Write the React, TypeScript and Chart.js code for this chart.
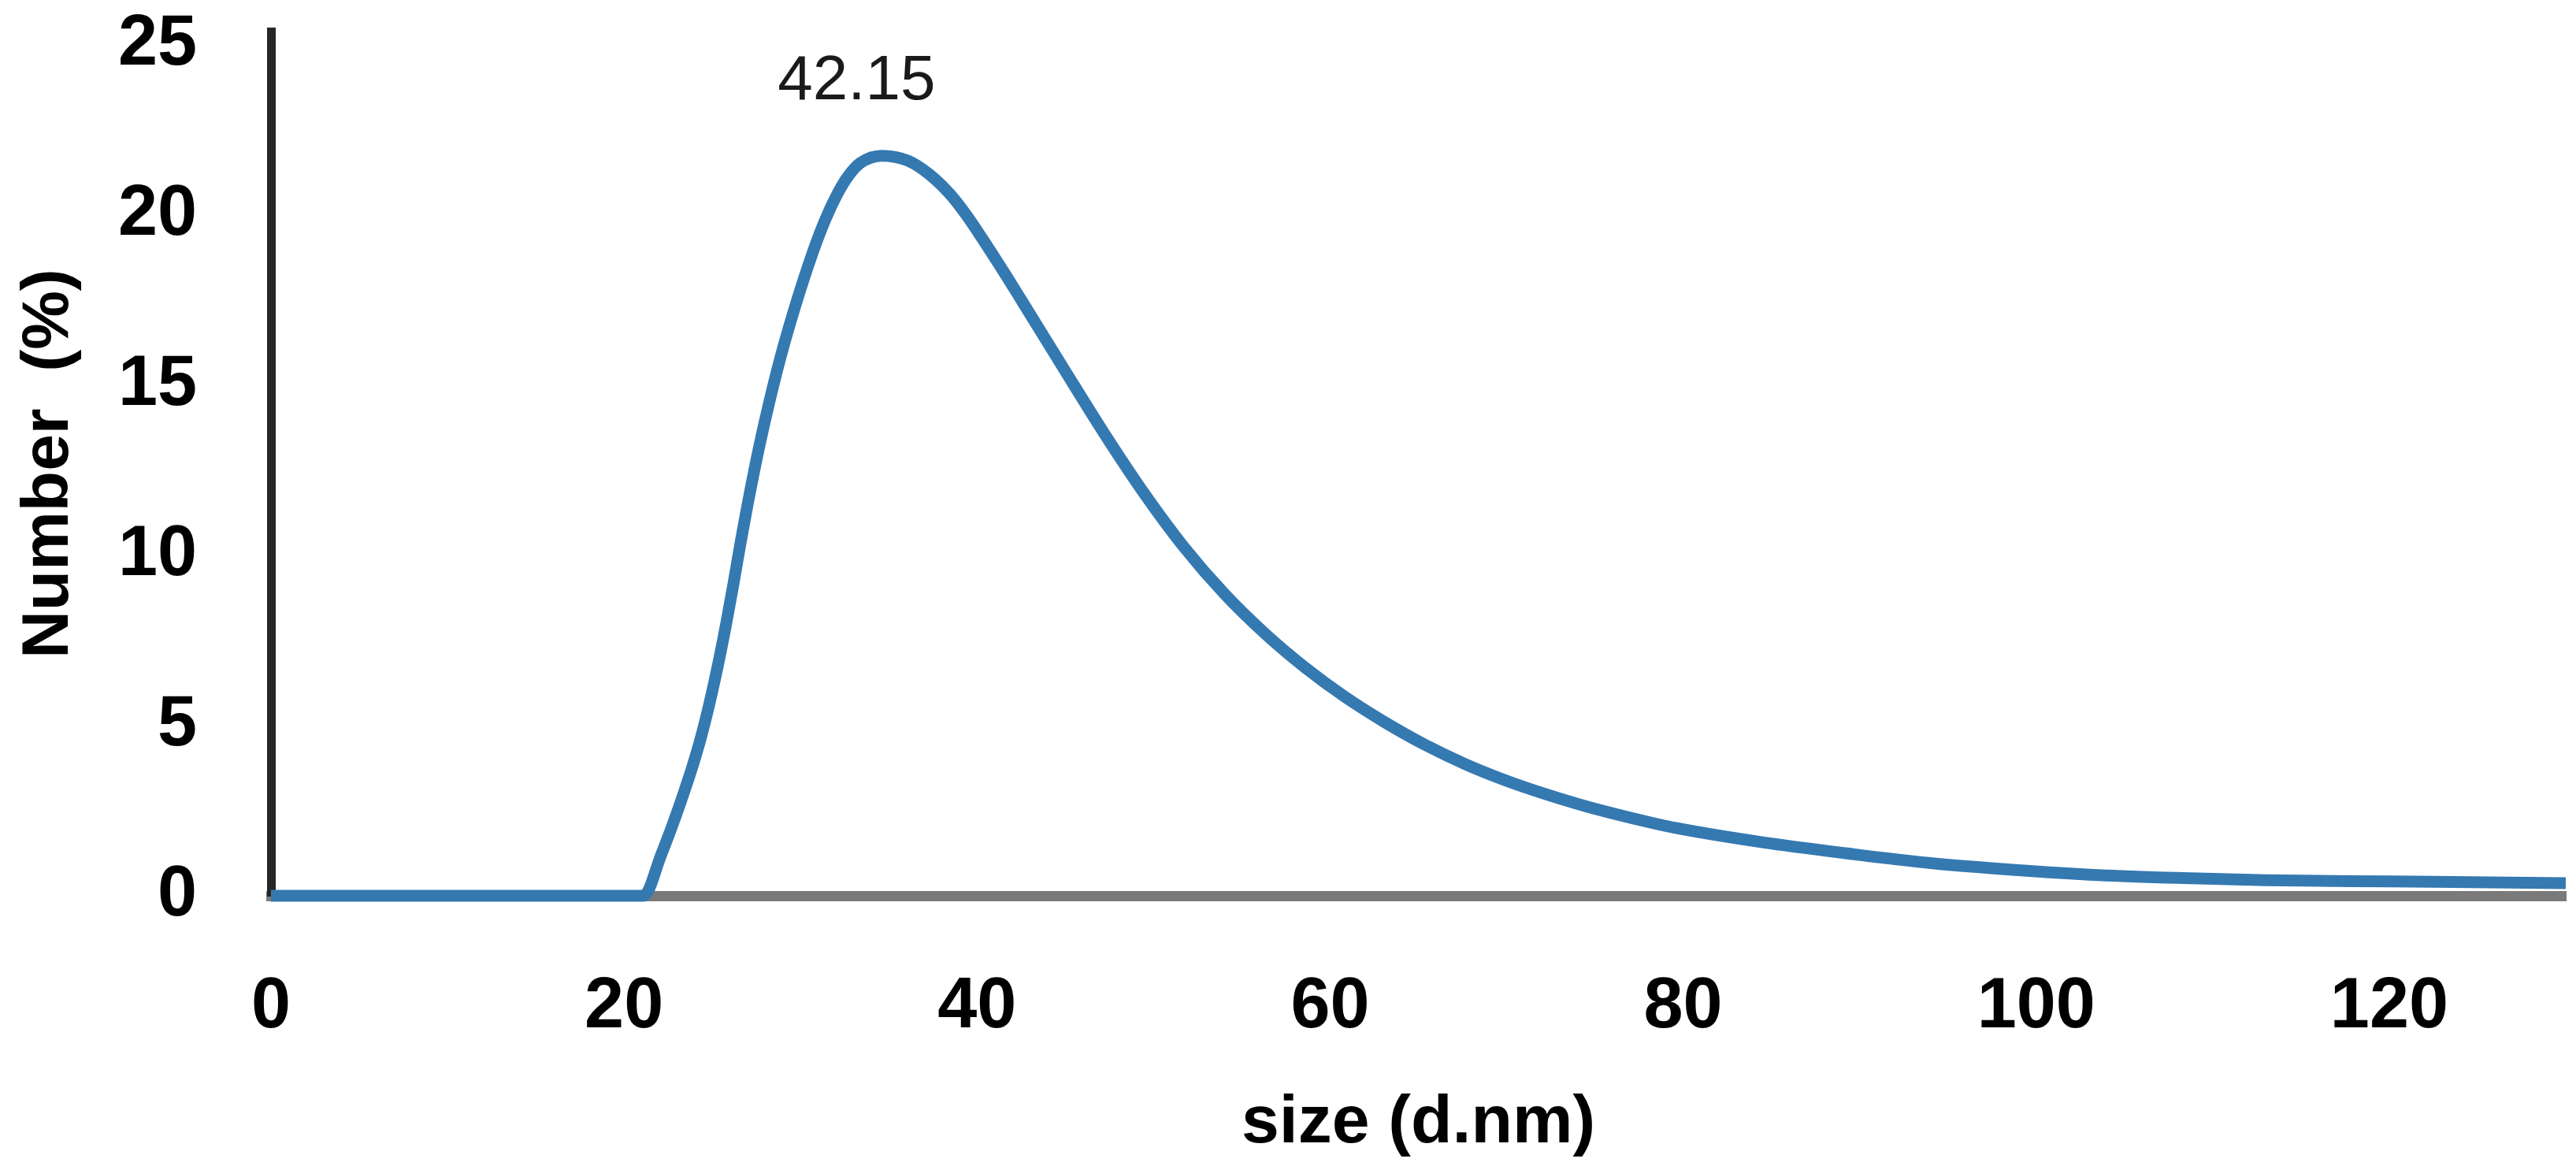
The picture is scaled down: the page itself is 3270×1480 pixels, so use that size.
import * as React from "react"
import { Chart, registerables } from "chart.js"

Chart.register(...registerables)

// size distribution by number (DLS)
const sizes = [
  0, 10, 20, 21.1, 22.1, 23.2, 24.1, 24.7, 25.3, 25.8, 26.2, 26.6, 27.0, 27.7,
  28.7, 29.6, 30.7, 31.4, 32.1, 32.7, 33.4, 34.6, 36.1, 37.3, 38.5, 39.4, 40.5,
  41.7, 42.6, 44.9, 47.2, 49.5, 51.7, 54.0, 56.3, 58.6, 60.8, 63.1, 65.4, 67.7,
  69.9, 72.2, 74.5, 78.1, 79.7, 84.5, 89.2, 94.0, 98.8, 103.5, 108.3, 113.0,
  117.8, 122.5, 130,
]
const numbers = [
  0, 0, 0, 0, 1.2, 2.74, 4.18, 5.35, 6.73, 8.03, 9.17, 10.37, 11.5, 13.3,
  15.5, 17.16, 18.92, 19.87, 20.64, 21.15, 21.54, 21.75, 21.6, 21.2, 20.6, 20.0, 19.15,
  18.18, 17.43, 15.5, 13.59, 11.8, 10.26, 8.88, 7.71, 6.7, 5.86, 5.1, 4.43, 3.86,
  3.4, 2.99, 2.63, 2.16, 1.98, 1.57, 1.25, 0.96, 0.76, 0.61, 0.52, 0.46,
  0.43, 0.41, 0.37,
]
const xTicks = [0, 20, 40, 60, 80, 100, 120]
const yTicks = [0, 5, 10, 15, 20, 25]
const peakLabel = "42.15"

const FONT = "'Liberation Sans', Arial, sans-serif"

const peakLabelPlugin = {
  id: "peakLabel",
  afterDatasetsDraw(chart: any) {
    const { ctx, scales } = chart
    let i = 0
    numbers.forEach((v, k) => { if (v > numbers[i]) i = k })
    const x = scales.x.getPixelForValue(sizes[i]) - 32
    const y = scales.y.getPixelForValue(numbers[i]) - 94
    ctx.save()
    ctx.font = `80px ${FONT}`
    ctx.fillStyle = "#1a1a1a"
    ctx.textAlign = "center"
    ctx.textBaseline = "middle"
    ctx.fillText(peakLabel, x, y)
    ctx.restore()
  },
}

function SizeChart() {
  const canvasRef = React.useRef<HTMLCanvasElement>(null)

  React.useEffect(() => {
    if (!canvasRef.current) return
    const chart = new Chart(canvasRef.current, {
      type: "line",
      data: {
        datasets: [
          {
            data: sizes.map((s, i) => ({ x: s, y: numbers[i] })),
            borderColor: "#3579b1",
            borderWidth: 15,
            pointRadius: 0,
            cubicInterpolationMode: "monotone",
            clip: false as any,
          },
        ],
      },
      options: {
        animation: false,
        responsive: true,
        maintainAspectRatio: false,
        layout: { padding: { top: 40, right: 13, left: 0, bottom: 0 } },
        plugins: { legend: { display: false }, tooltip: { enabled: false } },
        scales: {
          x: {
            type: "linear",
            min: 0,
            max: 130,
            afterBuildTicks: (s: any) => { s.ticks = xTicks.map((v) => ({ value: v })) },
            afterFit: (s: any) => {
              s.height = 343
              s.paddingLeft = 0
              s.paddingRight = 0
            },
            grid: { display: false, drawTicks: false },
            border: { display: true, color: "#7a7a7a", width: 13 },
            ticks: { color: "#000", padding: 88, font: { family: FONT, size: 90, weight: "bold" } },
            title: {
              display: true,
              text: "size (d.nm)",
              color: "#000",
              padding: { top: 0, bottom: 2 },
              font: { family: FONT, size: 86, weight: "bold" },
            },
          },
          y: {
            type: "linear",
            min: 0,
            max: 25.4,
            afterBuildTicks: (s: any) => { s.ticks = yTicks.map((v) => ({ value: v })) },
            afterFit: (s: any) => {
              s.width = 344
              s.paddingTop = 0
              s.paddingBottom = 0
            },
            grid: { display: false, drawTicks: false },
            border: { display: true, color: "#262626", width: 11 },
            ticks: { color: "#000", padding: 94, font: { family: FONT, size: 90, weight: "bold" } },
            title: {
              display: true,
              text: "Number  (%)",
              color: "#000",
              padding: { top: 12, bottom: 0 },
              font: { family: FONT, size: 84, weight: "bold" },
            },
          },
        },
      },
      plugins: [peakLabelPlugin],
    } as any)
    return () => chart.destroy()
  }, [])

  return (
    <div style={{ width: 3270, height: 1480, position: "relative", background: "#fff" }}>
      <canvas ref={canvasRef} />
    </div>
  )
}

export default function App() {
  React.useEffect(() => {
    document.body.style.margin = "0"
  }, [])
  return <SizeChart />
}
